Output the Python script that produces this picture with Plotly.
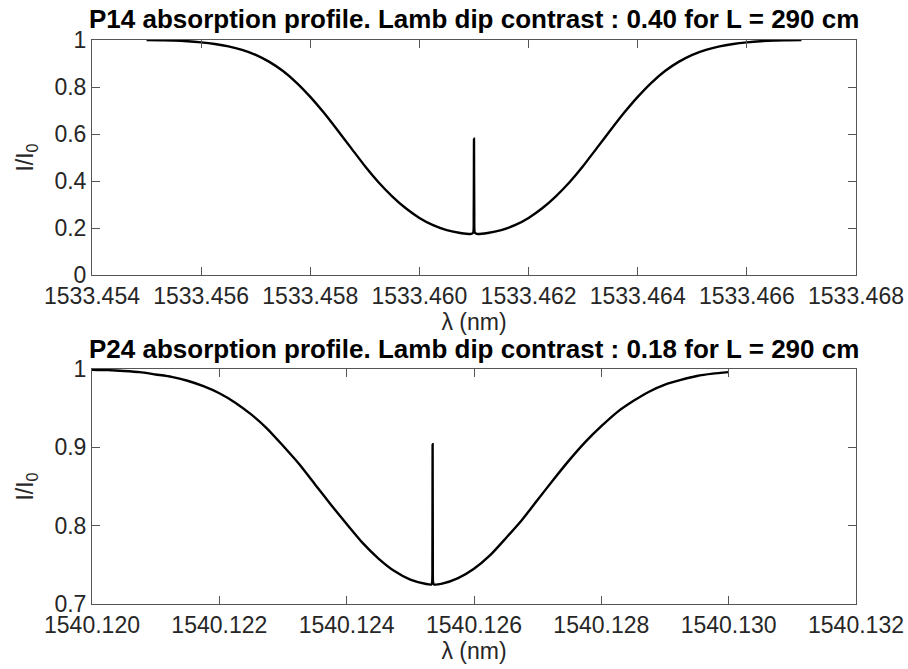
import plotly.graph_objects as go
from plotly.subplots import make_subplots

# P14 line: wavelength (nm) and normalised transmission I/I0
p14_wavelength = [
    1533.45500, 1533.45525, 1533.45550, 1533.45575, 1533.45600, 1533.45625,
    1533.45650, 1533.45675, 1533.45700, 1533.45725, 1533.45750, 1533.45775,
    1533.45800, 1533.45825, 1533.45850, 1533.45875, 1533.45900, 1533.45925,
    1533.45950, 1533.45975, 1533.46000, 1533.46025, 1533.46050, 1533.46075,
    1533.46095, 1533.460985, 1533.460995, 1533.461000, 1533.461005, 1533.461015,
    1533.46105, 1533.46125, 1533.46150, 1533.46175, 1533.46200, 1533.46225,
    1533.46250, 1533.46275, 1533.46300, 1533.46325, 1533.46350, 1533.46375,
    1533.46400, 1533.46425, 1533.46450, 1533.46475, 1533.46500, 1533.46525,
    1533.46550, 1533.46575, 1533.46600, 1533.46625, 1533.46650, 1533.46675,
    1533.46700,
]
p14_transmission = [
    1.000, 0.999, 0.998, 0.995, 0.990, 0.983,
    0.973, 0.958, 0.937, 0.907, 0.868, 0.818,
    0.758, 0.690, 0.616, 0.540, 0.464, 0.395,
    0.335, 0.284, 0.243, 0.212, 0.191, 0.179,
    0.175, 0.180, 0.260, 0.580, 0.260, 0.180,
    0.175, 0.179, 0.191, 0.212, 0.243, 0.284,
    0.335, 0.395, 0.464, 0.540, 0.616, 0.690,
    0.758, 0.818, 0.868, 0.907, 0.937, 0.958,
    0.973, 0.983, 0.990, 0.995, 0.998, 0.999,
    1.000,
]

# P24 line
p24_wavelength = [
    1540.12000, 1540.12025, 1540.12050, 1540.12075, 1540.12100, 1540.12125,
    1540.12150, 1540.12175, 1540.12200, 1540.12225, 1540.12250, 1540.12275,
    1540.12300, 1540.12325, 1540.12350, 1540.12375, 1540.12400, 1540.12425,
    1540.12450, 1540.12475, 1540.12500, 1540.12525, 1540.12533, 1540.125343,
    1540.125347, 1540.125350, 1540.125353, 1540.125357, 1540.12537, 1540.12550,
    1540.12575, 1540.12600, 1540.12625, 1540.12650, 1540.12675, 1540.12700,
    1540.12725, 1540.12750, 1540.12775, 1540.12800, 1540.12825, 1540.12850,
    1540.12875, 1540.12900, 1540.12925, 1540.12950, 1540.12975, 1540.13000,
]
p24_transmission = [
    0.999, 0.9985, 0.9975, 0.996, 0.993, 0.990,
    0.985, 0.978, 0.969, 0.957, 0.942, 0.924,
    0.902, 0.879, 0.853, 0.827, 0.802, 0.778,
    0.758, 0.742, 0.731, 0.7255, 0.725, 0.728,
    0.760, 0.904, 0.760, 0.728, 0.725, 0.726,
    0.733, 0.745, 0.762, 0.784, 0.807, 0.833,
    0.859, 0.884, 0.907, 0.927, 0.945, 0.959,
    0.971, 0.980, 0.986, 0.991, 0.994, 0.996,
]

titles = [
    "P14 absorption profile. Lamb dip contrast : 0.40 for L = 290 cm",
    "P24 absorption profile. Lamb dip contrast : 0.18 for L = 290 cm",
]
p14_xticks = [1533.454, 1533.456, 1533.458, 1533.460, 1533.462, 1533.464, 1533.466, 1533.468]
p24_xticks = [1540.120, 1540.122, 1540.124, 1540.126, 1540.128, 1540.130, 1540.132]
p14_yticks = [0, 0.2, 0.4, 0.6, 0.8, 1]
p24_yticks = [0.7, 0.8, 0.9, 1]

FONT = "Liberation Sans, Arial, Helvetica, sans-serif"
AXIS_COLOR = "#262626"

fig = make_subplots(rows=2, cols=1, vertical_spacing=0.1666)

line_style = dict(color="black", width=2.4, shape="spline", smoothing=0.6)
fig.add_trace(go.Scatter(x=p14_wavelength, y=p14_transmission, mode="lines",
                         line=line_style, showlegend=False),
              row=1, col=1)
fig.add_trace(go.Scatter(x=p24_wavelength, y=p24_transmission, mode="lines",
                         line=line_style, showlegend=False),
              row=2, col=1)

axis_common = dict(
    showgrid=False, zeroline=False, showline=True, mirror="ticks",
    linecolor="#555555", linewidth=1, ticks="inside", ticklen=8,
    tickcolor="#555555", tickwidth=1, automargin=False,
    tickfont=dict(family=FONT, size=23, color=AXIS_COLOR),
)

fig.update_xaxes(axis_common)
fig.update_yaxes(axis_common)

fig.update_xaxes(range=[1533.454, 1533.468], tickvals=p14_xticks,
                 ticktext=[f"{v:.3f}" for v in p14_xticks],
                 domain=[0, 1], row=1, col=1)
fig.update_xaxes(range=[1540.120, 1540.132], tickvals=p24_xticks,
                 ticktext=[f"{v:.3f}" for v in p24_xticks],
                 domain=[0, 1], row=2, col=1)
fig.update_yaxes(range=[0, 1], tickvals=p14_yticks,
                 ticktext=[f"{v:g}" for v in p14_yticks],
                 domain=[0.5833, 1.0], row=1, col=1)
fig.update_yaxes(range=[0.7, 1], tickvals=p24_yticks,
                 ticktext=[f"{v:g}" for v in p24_yticks],
                 domain=[0.0, 0.4167], row=2, col=1)

xlab = dict(text="λ (nm)", font=dict(family=FONT, size=23, color=AXIS_COLOR), standoff=0)
ylab = dict(text="I/I<sub>0</sub>", font=dict(family=FONT, size=23, color=AXIS_COLOR), standoff=14)
fig.update_xaxes(title=xlab)
fig.update_yaxes(title=ylab)

fig.update_layout(
    width=908, height=669,
    margin=dict(l=92, r=52, t=40, b=65, autoexpand=False),
    plot_bgcolor="white", paper_bgcolor="white",
    annotations=[
        dict(text=f"<b>{titles[0]}</b>", xref="paper", yref="paper",
             x=0.5, y=1.0, xanchor="center", yanchor="bottom", yshift=4,
             showarrow=False, font=dict(family=FONT, size=26, color="black")),
        dict(text=f"<b>{titles[1]}</b>", xref="paper", yref="paper",
             x=0.5, y=0.4167, xanchor="center", yanchor="bottom", yshift=3,
             showarrow=False, font=dict(family=FONT, size=26, color="black")),
    ],
)

fig.write_html("out.html")
